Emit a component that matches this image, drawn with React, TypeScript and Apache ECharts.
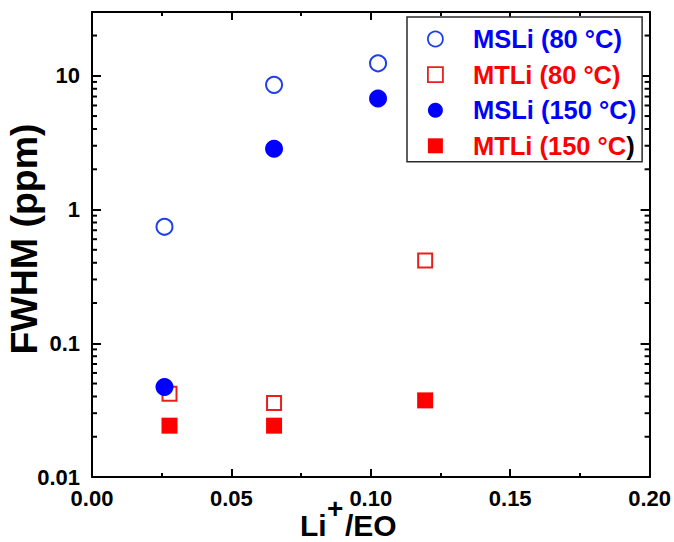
import React, { useEffect, useRef } from 'react';
import * as echarts from 'echarts';

const seriesNames = ['MSLi (80 °C)', 'MTLi (80 °C)', 'MSLi (150 °C)', 'MTLi (150 °C)'];
const msli80X = [0.026, 0.0653, 0.1026];
const msli80Y = [0.743, 8.56, 12.4];
const mtli80X = [0.0278, 0.0653, 0.1195];
const mtli80Y = [0.042, 0.0357, 0.416];
const msli150X = [0.026, 0.0653, 0.1026];
const msli150Y = [0.0471, 2.85, 6.76];
const mtli150X = [0.0278, 0.0653, 0.1195];
const mtli150Y = [0.0242, 0.0242, 0.0374];
const yDecades = [0.01, 0.1, 1, 10];
const yMinorTicks = [
  0.02, 0.03, 0.04, 0.05, 0.06, 0.07, 0.08, 0.09,
  0.2, 0.3, 0.4, 0.5, 0.6, 0.7, 0.8, 0.9,
  2, 3, 4, 5, 6, 7, 8, 9, 20,
];

const FONT = '"Liberation Sans", Arial, Helvetica, sans-serif';
const BLUE = '#0000ff';
const OPEN_BLUE = '#1f3fe8';
const RED = '#ff0000';
const OPEN_RED = '#e8201c';

const zip = (xs: number[], ys: number[]) => xs.map((x, i) => [x, ys[i]]);

export default function App() {
  const ref = useRef<HTMLDivElement>(null);
  useEffect(() => {
    if (!ref.current) return;
    const chart = echarts.init(ref.current, null, { renderer: 'svg' });
    const axisLine = { show: true, onZero: false, lineStyle: { color: '#000', width: 2 } };
    const xAxisCommon = {
      type: 'value',
      min: 0,
      max: 0.2,
      interval: 0.05,
      axisLine,
      axisTick: { show: true, inside: true, length: 8, lineStyle: { color: '#000', width: 2 } },
      minorTick: { show: true, splitNumber: 2, length: 4, lineStyle: { color: '#000', width: 2 } },
      splitLine: { show: false },
    };
    const yAxisCommon = {
      type: 'log',
      logBase: 10,
      min: 0.01,
      max: 30,
      axisLine,
      axisTick: { show: true, inside: true, length: 9, lineStyle: { color: '#000', width: 2 } },
      splitLine: { show: false },
    };
    const labelStyle = { color: '#000', fontSize: 22, fontWeight: 'bold', fontFamily: FONT };
    const richBase = { fontSize: 25.5, fontWeight: 'bold', fontFamily: FONT, lineHeight: 26 };
    chart.setOption({
      animation: false,
      backgroundColor: '#fff',
      grid: { left: 92, top: 12, right: 23, bottom: 65, containLabel: false },
      xAxis: [
        {
          ...xAxisCommon,
          position: 'bottom',
          axisLabel: { ...labelStyle, margin: 10, formatter: (v: number) => v.toFixed(2) },
        },
        { ...xAxisCommon, position: 'top', axisLabel: { show: false } },
      ],
      yAxis: [
        {
          ...yAxisCommon,
          position: 'left',
          axisLabel: {
            ...labelStyle,
            margin: 12,
            formatter: (v: number) => {
              const r = Number(Number(v).toPrecision(2));
              return yDecades.includes(r) ? String(r) : '';
            },
          },
        },
        { ...yAxisCommon, position: 'right', axisLabel: { show: false } },
      ],
      legend: {
        left: 407,
        top: 17,
        orient: 'vertical',
        backgroundColor: '#fff',
        borderColor: '#2b2b2b',
        borderWidth: 1.5,
        borderRadius: 0,
        padding: [9, 6, 3, 20],
        itemWidth: 15,
        itemHeight: 15,
        itemGap: 9.6,
        z: 10,
        selectedMode: false,
        data: [
          { name: seriesNames[0], icon: 'circle', itemStyle: { color: 'rgba(255,255,255,0)', borderColor: OPEN_BLUE, borderWidth: 1.8, opacity: 1 } },
          { name: seriesNames[1], icon: 'rect', itemStyle: { color: 'rgba(255,255,255,0)', borderColor: OPEN_RED, borderWidth: 1.8, opacity: 1 } },
          { name: seriesNames[2], icon: 'circle', itemStyle: { color: BLUE, borderWidth: 0, opacity: 1 } },
          { name: seriesNames[3], icon: 'rect', itemStyle: { color: RED, borderWidth: 0, opacity: 1 } },
        ],
        formatter: (name: string) => {
          if (name === seriesNames[3]) return '{s| }{r|MTLi (150 °C}{k|)}';
          return name.startsWith('MS') ? `{s| }{b|${name}}` : `{s| }{r|${name}}`;
        },
        textStyle: {
          rich: {
            s: { ...richBase, width: 25 },
            b: { ...richBase, color: BLUE },
            r: { ...richBase, color: RED },
            k: { ...richBase, color: '#000' },
          },
        },
      },
      series: [
        {
          type: 'custom',
          name: 'minorTicks',
          silent: true,
          clip: false,
          z: 3,
          xAxisIndex: 0,
          yAxisIndex: 0,
          data: yMinorTicks.map((v) => [0, v]),
          encode: { x: 0, y: 1 },
          renderItem: (_params: any, api: any) => {
            const v = api.value(1);
            const l = api.coord([0, v]);
            const r = api.coord([0.2, v]);
            return {
              type: 'group',
              children: [
                { type: 'line', shape: { x1: l[0], y1: l[1], x2: l[0] + 5, y2: l[1] }, style: { stroke: '#000', lineWidth: 2 } },
                { type: 'line', shape: { x1: r[0] - 5, y1: r[1], x2: r[0], y2: r[1] }, style: { stroke: '#000', lineWidth: 2 } },
              ],
            };
          },
        },
        {
          type: 'scatter',
          name: seriesNames[0],
          data: zip(msli80X, msli80Y),
          symbol: 'circle',
          symbolSize: 16,
          itemStyle: { color: 'rgba(255,255,255,0)', borderColor: OPEN_BLUE, borderWidth: 2, opacity: 1 },
        },
        {
          type: 'scatter',
          name: seriesNames[1],
          data: zip(mtli80X, mtli80Y),
          symbol: 'rect',
          symbolSize: 14,
          itemStyle: { color: 'rgba(255,255,255,0)', borderColor: OPEN_RED, borderWidth: 2, opacity: 1 },
        },
        {
          type: 'scatter',
          name: seriesNames[2],
          data: zip(msli150X, msli150Y),
          symbol: 'circle',
          symbolSize: 18,
          itemStyle: { color: BLUE, opacity: 1 },
        },
        {
          type: 'scatter',
          name: seriesNames[3],
          data: zip(mtli150X, mtli150Y),
          symbol: 'rect',
          symbolSize: 16,
          itemStyle: { color: RED, opacity: 1 },
        },
      ],
      graphic: [
        {
          type: 'text',
          x: 24,
          y: 239,
          rotation: Math.PI / 2,
          style: { text: 'FWHM (ppm)', font: `bold 37.5px ${FONT}`, fill: '#000', align: 'center', verticalAlign: 'middle' },
        },
        {
          type: 'text',
          x: 300,
          y: 525.5,
          style: { text: 'Li', font: `bold 30px ${FONT}`, fill: '#000', align: 'left', verticalAlign: 'middle' },
        },
        {
          type: 'text',
          x: 327,
          y: 508,
          style: { text: '+', font: `bold 28px ${FONT}`, fill: '#000', align: 'left', verticalAlign: 'middle' },
        },
        {
          type: 'text',
          x: 345,
          y: 525.5,
          style: { text: '/EO', font: `bold 30px ${FONT}`, fill: '#000', align: 'left', verticalAlign: 'middle' },
        },
      ],
    });
    return () => chart.dispose();
  }, []);
  return <div ref={ref} style={{ position: 'fixed', left: 0, top: 0, width: 674, height: 542 }} />;
}
